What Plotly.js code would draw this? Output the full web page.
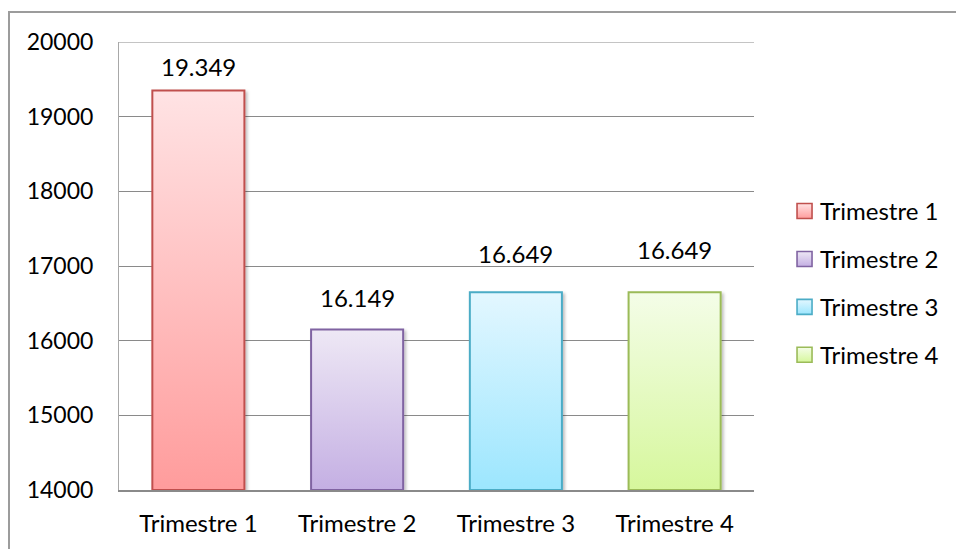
<!DOCTYPE html>
<html>
<head>
<meta charset="utf-8">
<script src="https://cdn.plot.ly/plotly-3.0.1.min.js"></script>
<style>
  html, body { margin: 0; padding: 0; background: #ffffff; }
  #wrap { position: relative; width: 956px; height: 549px; overflow: hidden; }
  #chart { position: absolute; left: 0; top: 0; width: 956px; height: 549px; }
  #frame {
    position: absolute; left: 8px; top: 11px; width: 1000px; height: 600px;
    border-top: 2px solid #9c9c9c; border-left: 2px solid #9c9c9c;
    pointer-events: none;
  }
</style>
</head>
<body>
<div id="wrap">
  <div id="chart"></div>
  <div id="frame"></div>
</div>
<script>
// Quarterly totals
const categories = ['Trimestre 1', 'Trimestre 2', 'Trimestre 3', 'Trimestre 4'];
const values = [19349, 16149, 16649, 16649];
const yTicks = [14000, 15000, 16000, 17000, 18000, 19000, 20000];

const AXIS_MIN = 14000;
const AXIS_MAX = 20000;
const FONT = 'Lato, "Open Sans", sans-serif';
const FS = 24;

// Excel-style palette: outline colour plus light-to-saturated vertical gradient
const outline = ['#C0504D', '#8064A2', '#4BACC6', '#9BBB59'];
const gradTop = ['#FFE3E4', '#EEE8F5', '#E3F7FF', '#F4FDE8'];
const gradBottom = ['#FF9C9C', '#C4AFE3', '#9CE6FE', '#D6F79C'];
// vertical lift (px) of each value label above its bar
const labelLift = [21, 29, 35, 39];

// format 19349 -> "19.349"
function fmt(v) {
  return String(v).replace(/\B(?=(\d{3})+(?!\d))/g, '.');
}

const traces = categories.map((c, i) => ({
  type: 'bar',
  name: c,
  x: [c],
  y: [values[i] - AXIS_MIN],
  base: AXIS_MIN,
  width: 0.58,
  legendgroup: 'g' + i,
  marker: { color: gradBottom[i], line: { color: outline[i], width: 2 } },
  hoverinfo: 'skip'
}));

const annotations = categories.map((c, i) => ({
  x: c, y: values[i], xref: 'x', yref: 'y',
  text: fmt(values[i]),
  showarrow: false,
  yanchor: 'bottom',
  yshift: labelLift[i] - 13,
  font: { family: FONT, size: FS, color: '#000000' }
}));

const layout = {
  width: 956, height: 549,
  margin: { l: 119, r: 202, t: 42, b: 59, pad: 0 },
  paper_bgcolor: 'rgba(0,0,0,0)',
  plot_bgcolor: 'rgba(0,0,0,0)',
  font: { family: FONT, size: FS, color: '#000000' },
  barmode: 'overlay',
  showlegend: true,
  legend: {
    x: 1.041, xanchor: 'left', y: 0.672, yanchor: 'top',
    tracegroupgap: 13.7,
    traceorder: 'grouped',
    font: { family: FONT, size: FS, color: '#000000' },
    bgcolor: 'rgba(0,0,0,0)'
  },
  xaxis: {
    type: 'category',
    categoryorder: 'array', categoryarray: categories,
    showgrid: false, zeroline: false,
    showline: true, linecolor: '#8a8a8a', linewidth: 2,
    ticks: '', ticklabelstandoff: 11,
    tickfont: { family: FONT, size: FS, color: '#000000' }
  },
  yaxis: {
    range: [AXIS_MIN, AXIS_MAX],
    tickvals: yTicks, ticktext: yTicks.map(String),
    showgrid: true, gridcolor: '#8a8a8a', gridwidth: 1,
    zeroline: false,
    showline: true, linecolor: '#a8a8a8', linewidth: 1,
    ticks: '', ticklabelstandoff: 20,
    tickfont: { family: FONT, size: 23, color: '#000000' }
  },
  shapes: [{
    // gridline at the top of the value range
    type: 'line', xref: 'paper', yref: 'y',
    x0: 0, x1: 1, y0: AXIS_MAX, y1: AXIS_MAX,
    line: { color: '#8a8a8a', width: 1 }, layer: 'below'
  }],
  annotations: annotations
};

const gd = document.getElementById('chart');
const SVGNS = 'http://www.w3.org/2000/svg';

function applyGradients() {
  const svg = gd.querySelector('svg.main-svg');
  if (!svg) return;
  let defs = svg.querySelector('defs');
  if (!defs) { defs = document.createElementNS(SVGNS, 'defs'); svg.insertBefore(defs, svg.firstChild); }
  if (!defs.querySelector('#barGrad0')) {
    categories.forEach((c, i) => {
      const lg = document.createElementNS(SVGNS, 'linearGradient');
      lg.setAttribute('id', 'barGrad' + i);
      lg.setAttribute('x1', '0'); lg.setAttribute('y1', '0');
      lg.setAttribute('x2', '0'); lg.setAttribute('y2', '1');
      [[0, gradTop[i]], [1, gradBottom[i]]].forEach(([o, col]) => {
        const s = document.createElementNS(SVGNS, 'stop');
        s.setAttribute('offset', o);
        s.setAttribute('stop-color', col);
        lg.appendChild(s);
      });
      defs.appendChild(lg);
    });
    const f = document.createElementNS(SVGNS, 'filter');
    f.setAttribute('id', 'barShadow');
    f.setAttribute('x', '-20%'); f.setAttribute('y', '-20%');
    f.setAttribute('width', '140%'); f.setAttribute('height', '140%');
    const ds = document.createElementNS(SVGNS, 'feDropShadow');
    ds.setAttribute('dx', '2'); ds.setAttribute('dy', '2');
    ds.setAttribute('stdDeviation', '1.5');
    ds.setAttribute('flood-color', '#000'); ds.setAttribute('flood-opacity', '0.25');
    f.appendChild(ds);
    defs.appendChild(f);
  }
  gd.querySelectorAll('.barlayer .trace').forEach((t, i) => {
    t.querySelectorAll('path').forEach(p => {
      p.style.fill = 'url(#barGrad' + i + ')';
      p.setAttribute('filter', 'url(#barShadow)');
    });
  });
  // legend swatches: square sitting close to its label, same gradient as the bars
  gd.querySelectorAll('.legend .traces').forEach((t, i) => {
    t.querySelectorAll('.legendpoints path').forEach(p => {
      p.setAttribute('d', 'M12,7.5H-3V-7.5H12Z');
      p.style.fill = 'url(#barGrad' + i + ')';
      p.style.strokeWidth = '1.6px';
    });
  });
}

Plotly.newPlot(gd, traces, layout, { displayModeBar: false, staticPlot: true }).then(() => {
  applyGradients();
  gd.on('plotly_afterplot', applyGradients);
});
</script>
</body>
</html>
